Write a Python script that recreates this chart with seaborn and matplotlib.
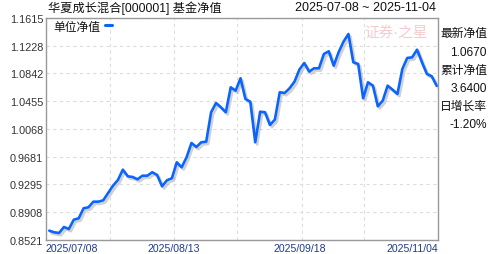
import matplotlib
matplotlib.use("Agg")
import matplotlib.pyplot as plt
import matplotlib.patheffects as pe
import seaborn as sns
import pandas as pd
import numpy as np

# ---- data ----
nav = [
    0.8651, 0.8628, 0.8619, 0.8702, 0.8674, 0.8804, 0.8823, 0.8963, 0.8977, 0.9055,
    0.9055, 0.9074, 0.9176, 0.9278, 0.9357, 0.9501, 0.9409, 0.9399, 0.9367, 0.9417,
    0.9417, 0.9465, 0.9427, 0.9269, 0.9353, 0.9381, 0.9604, 0.9534,
    0.9674, 0.9873, 0.9817, 0.9883, 0.9891, 1.0301, 1.0430, 1.0371, 1.0301, 1.0649,
    1.0602, 1.0775, 1.0486, 1.0448, 0.9883, 1.0309, 1.0301, 1.0124, 1.0198, 1.0580,
    1.0570, 1.0635, 1.0727, 1.0895, 1.0988, 1.0867,
    1.0914, 1.0914, 1.1113, 1.1151, 1.0950, 1.1137, 1.1285, 1.1392, 1.0998, 1.0974,
    1.0496, 1.0719, 1.0672, 1.0384, 1.0462, 1.0672, 1.0616, 1.0556, 1.0904, 1.1058,
    1.1067, 1.1173, 1.0998, 1.0835, 1.0803, 1.0670,
]
day_index = list(range(len(nav)))
y_ticks = [0.8521, 0.8908, 0.9295, 0.9681, 1.0068, 1.0455, 1.0842, 1.1228, 1.1615]
y_tick_labels = ["0.8521", "0.8908", "0.9295", "0.9681", "1.0068",
                 "1.0455", "1.0842", "1.1228", "1.1615"]
x_tick_pos = [-0.67, 25.3, 51.1, 79.27]
x_tick_labels = ["2025/07/08", "2025/08/13", "2025/09/18", "2025/11/04"]
x_grid_pos = [12.4, 25.4, 38.3, 51.5, 64.2]
title = "华夏成长混合[000001] 基金净值"
date_range = "2025-07-08 ~ 2025-11-04"
series_name = "单位净值"
info_labels = ["最新净值", "累计净值", "日增长率"]
info_values = ["1.0670", "3.6400", "-1.20%"]

df = pd.DataFrame({"day": day_index, "nav": nav})

sns.set_theme(style="white")
plt.rcParams["font.family"] = ["Liberation Sans", "Noto Sans CJK SC", "DejaVu Sans"]

W, H = 488, 255
fig = plt.figure(figsize=(W / 100, H / 100), dpi=100)
fig.patch.set_facecolor("white")
ax = fig.add_axes([46 / W, 1 - 241 / H, (438 - 46) / W, (241 - 19) / H])
ax.set_facecolor("white")

line_color = "#0A64FF"
sns.lineplot(data=df, x="day", y="nav", ax=ax, color=line_color, linewidth=1.9,
             legend=False,
             path_effects=[pe.SimpleLineShadow(offset=(1.4, -1.6), shadow_color="#9a9a9a", alpha=0.45),
                           pe.Normal()])

ax.set_xlim(-0.67, 79.27)
ax.set_ylim(y_ticks[0], y_ticks[-1])
ax.set_xlabel("")
ax.set_ylabel("")

ax.set_yticks(y_ticks)
ax.set_yticklabels(y_tick_labels, fontsize=7.8, color="#333333")
ax.set_xticks(x_tick_pos)
ax.set_xticklabels(x_tick_labels, fontsize=7.6, color="#1E3C8C")
xt = ax.get_xticklabels()
xt[0].set_ha("left"); xt[-1].set_ha("right")
ax.set_xticks(x_grid_pos, minor=True)
ax.tick_params(axis="both", which="both", length=0)
ax.tick_params(axis="y", pad=2)
ax.tick_params(axis="x", pad=2)

ax.grid(False)
ax.grid(axis="y", which="major", color="#dddddd", linestyle=(0, (3, 3)), linewidth=0.8)
ax.grid(axis="x", which="minor", color="#dddddd", linestyle=(0, (3, 3)), linewidth=0.8)
ax.set_axisbelow(True)

for s in ax.spines.values():
    s.set_visible(True)
    s.set_color("#999999")
    s.set_linewidth(1.0)

# legend (drawn as label + short mark)
ax.text(53 / W, 1 - 27.7 / H, series_name, transform=fig.transFigure, fontsize=8.5,
        color="#111111", va="center", ha="left")
fig.add_artist(plt.Line2D([104.5 / W, 111.5 / W], [1 - 25.7 / H, 1 - 25.7 / H],
                          transform=fig.transFigure, color=line_color, linewidth=2.2))

# watermark
fig.text(396 / W, 1 - 33 / H, "证券·之星", fontsize=10.5, color="#F6C4C9", ha="center",
         va="center", alpha=0.9)

# title and date range
fig.text(47.7 / W, 1 - 8.3 / H, title, fontsize=8.8, color="#111111", ha="left", va="center")
fig.text(436 / W, 1 - 8.3 / H, date_range, fontsize=9.0, color="#111111", ha="right", va="center")

# right info panel
label_y = [34.3, 70.7, 107]
value_y = [52.7, 88.7, 125.3]
for lab, val, ly, vy in zip(info_labels, info_values, label_y, value_y):
    fig.text(440 / W, 1 - ly / H, lab, fontsize=8.5, color="#111111", ha="left", va="center")
    fig.text(486.5 / W, 1 - vy / H, val, fontsize=8.6, color="#111111", ha="right", va="center")

fig.savefig("out.png", dpi=100)
